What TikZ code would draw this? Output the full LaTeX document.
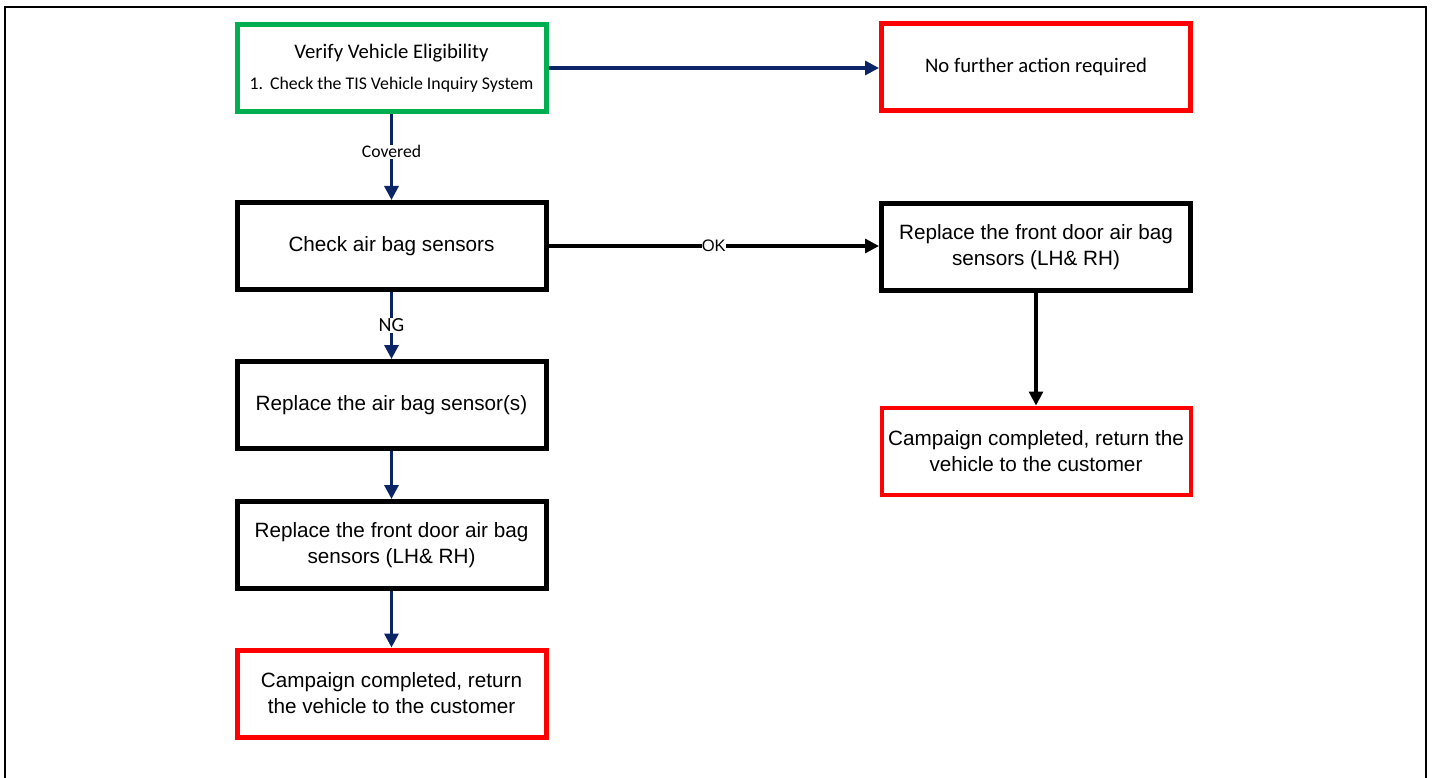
\documentclass[tikz,border=0pt]{standalone}
\usepackage{fontspec}
\setmainfont{Liberation Sans}
\newfontfamily\calibri{Carlito}
\usetikzlibrary{arrows.meta,positioning}
\definecolor{navy}{HTML}{0B2466}
\definecolor{boxgreen}{HTML}{00B050}
\definecolor{boxred}{HTML}{FF0000}
\tikzset{
  box/.style={draw=black, line width=5pt, minimum width=309pt, minimum height=87pt,
    inner sep=0pt, align=center, font=\fontsize{20.7}{26}\selectfont, fill=white},
  greenbox/.style={box, draw=boxgreen},
  redbox/.style={box, draw=boxred},
  navyarrow/.style={draw=navy, line width=3.2pt, -{Triangle[length=14pt,width=14pt]}},
  blackarrow/.style={draw=black, line width=3.2pt, -{Triangle[length=14pt,width=14pt]}},
  lbl/.style={fill=white, inner sep=1pt}
}
\begin{document}
\begin{tikzpicture}[x=1pt,y=-1pt]
\useasboundingbox (0,0) rectangle (1433,778);
\draw[line width=2pt] (5,790) -- (5,7) -- (1426,7) -- (1426,790);

\node[greenbox] (verify) at (391.5,68) {{\calibri\fontsize{20.7}{24}\selectfont Verify Vehicle Eligibility}\\[5pt]{\calibri\fontsize{17.8}{20}\selectfont 1.\hspace{7pt}Check the TIS Vehicle Inquiry System}};
\node[redbox] (nofurther) at (1036,67) {\calibri\fontsize{20.7}{24}\selectfont No further action required};
\node[box] (check) at (391.5,246) {Check air bag sensors};
\node[box] (repl) at (391.5,405) {Replace the air bag sensor(s)};
\node[box] (doorL) at (391.5,545) {Replace the front door air bag\\sensors (LH\& RH)};
\node[redbox] (campL) at (391.5,693.5) {Campaign completed, return\\the vehicle to the customer};
\node[box] (doorR) at (1036,247) {Replace the front door air bag\\sensors (LH\& RH)};
\node[redbox, line width=4pt] (campR) at (1036,451) {Campaign completed, return the\\vehicle to the customer};

\draw[navyarrow] (verify.east |- 0,68) -- (nofurther.west |- 0,68);
\draw[navyarrow] (verify) -- node[lbl, pos=0.44, font=\calibri\fontsize{17.7}{20}\selectfont] {Covered} (check);
\draw[navyarrow] (check) -- node[lbl, pos=0.5, font=\calibri\fontsize{20}{22}\selectfont] {NG} (repl);
\draw[navyarrow] (repl) -- (doorL);
\draw[navyarrow] (doorL) -- (campL);
\draw[blackarrow] (check.east |- 0,246) -- node[lbl, inner sep=0pt, pos=0.5, font=\fontsize{16.6}{18}\selectfont] {OK} (doorR.west |- 0,246);
\draw[blackarrow] (doorR) -- (campR);
\end{tikzpicture}
\end{document}
